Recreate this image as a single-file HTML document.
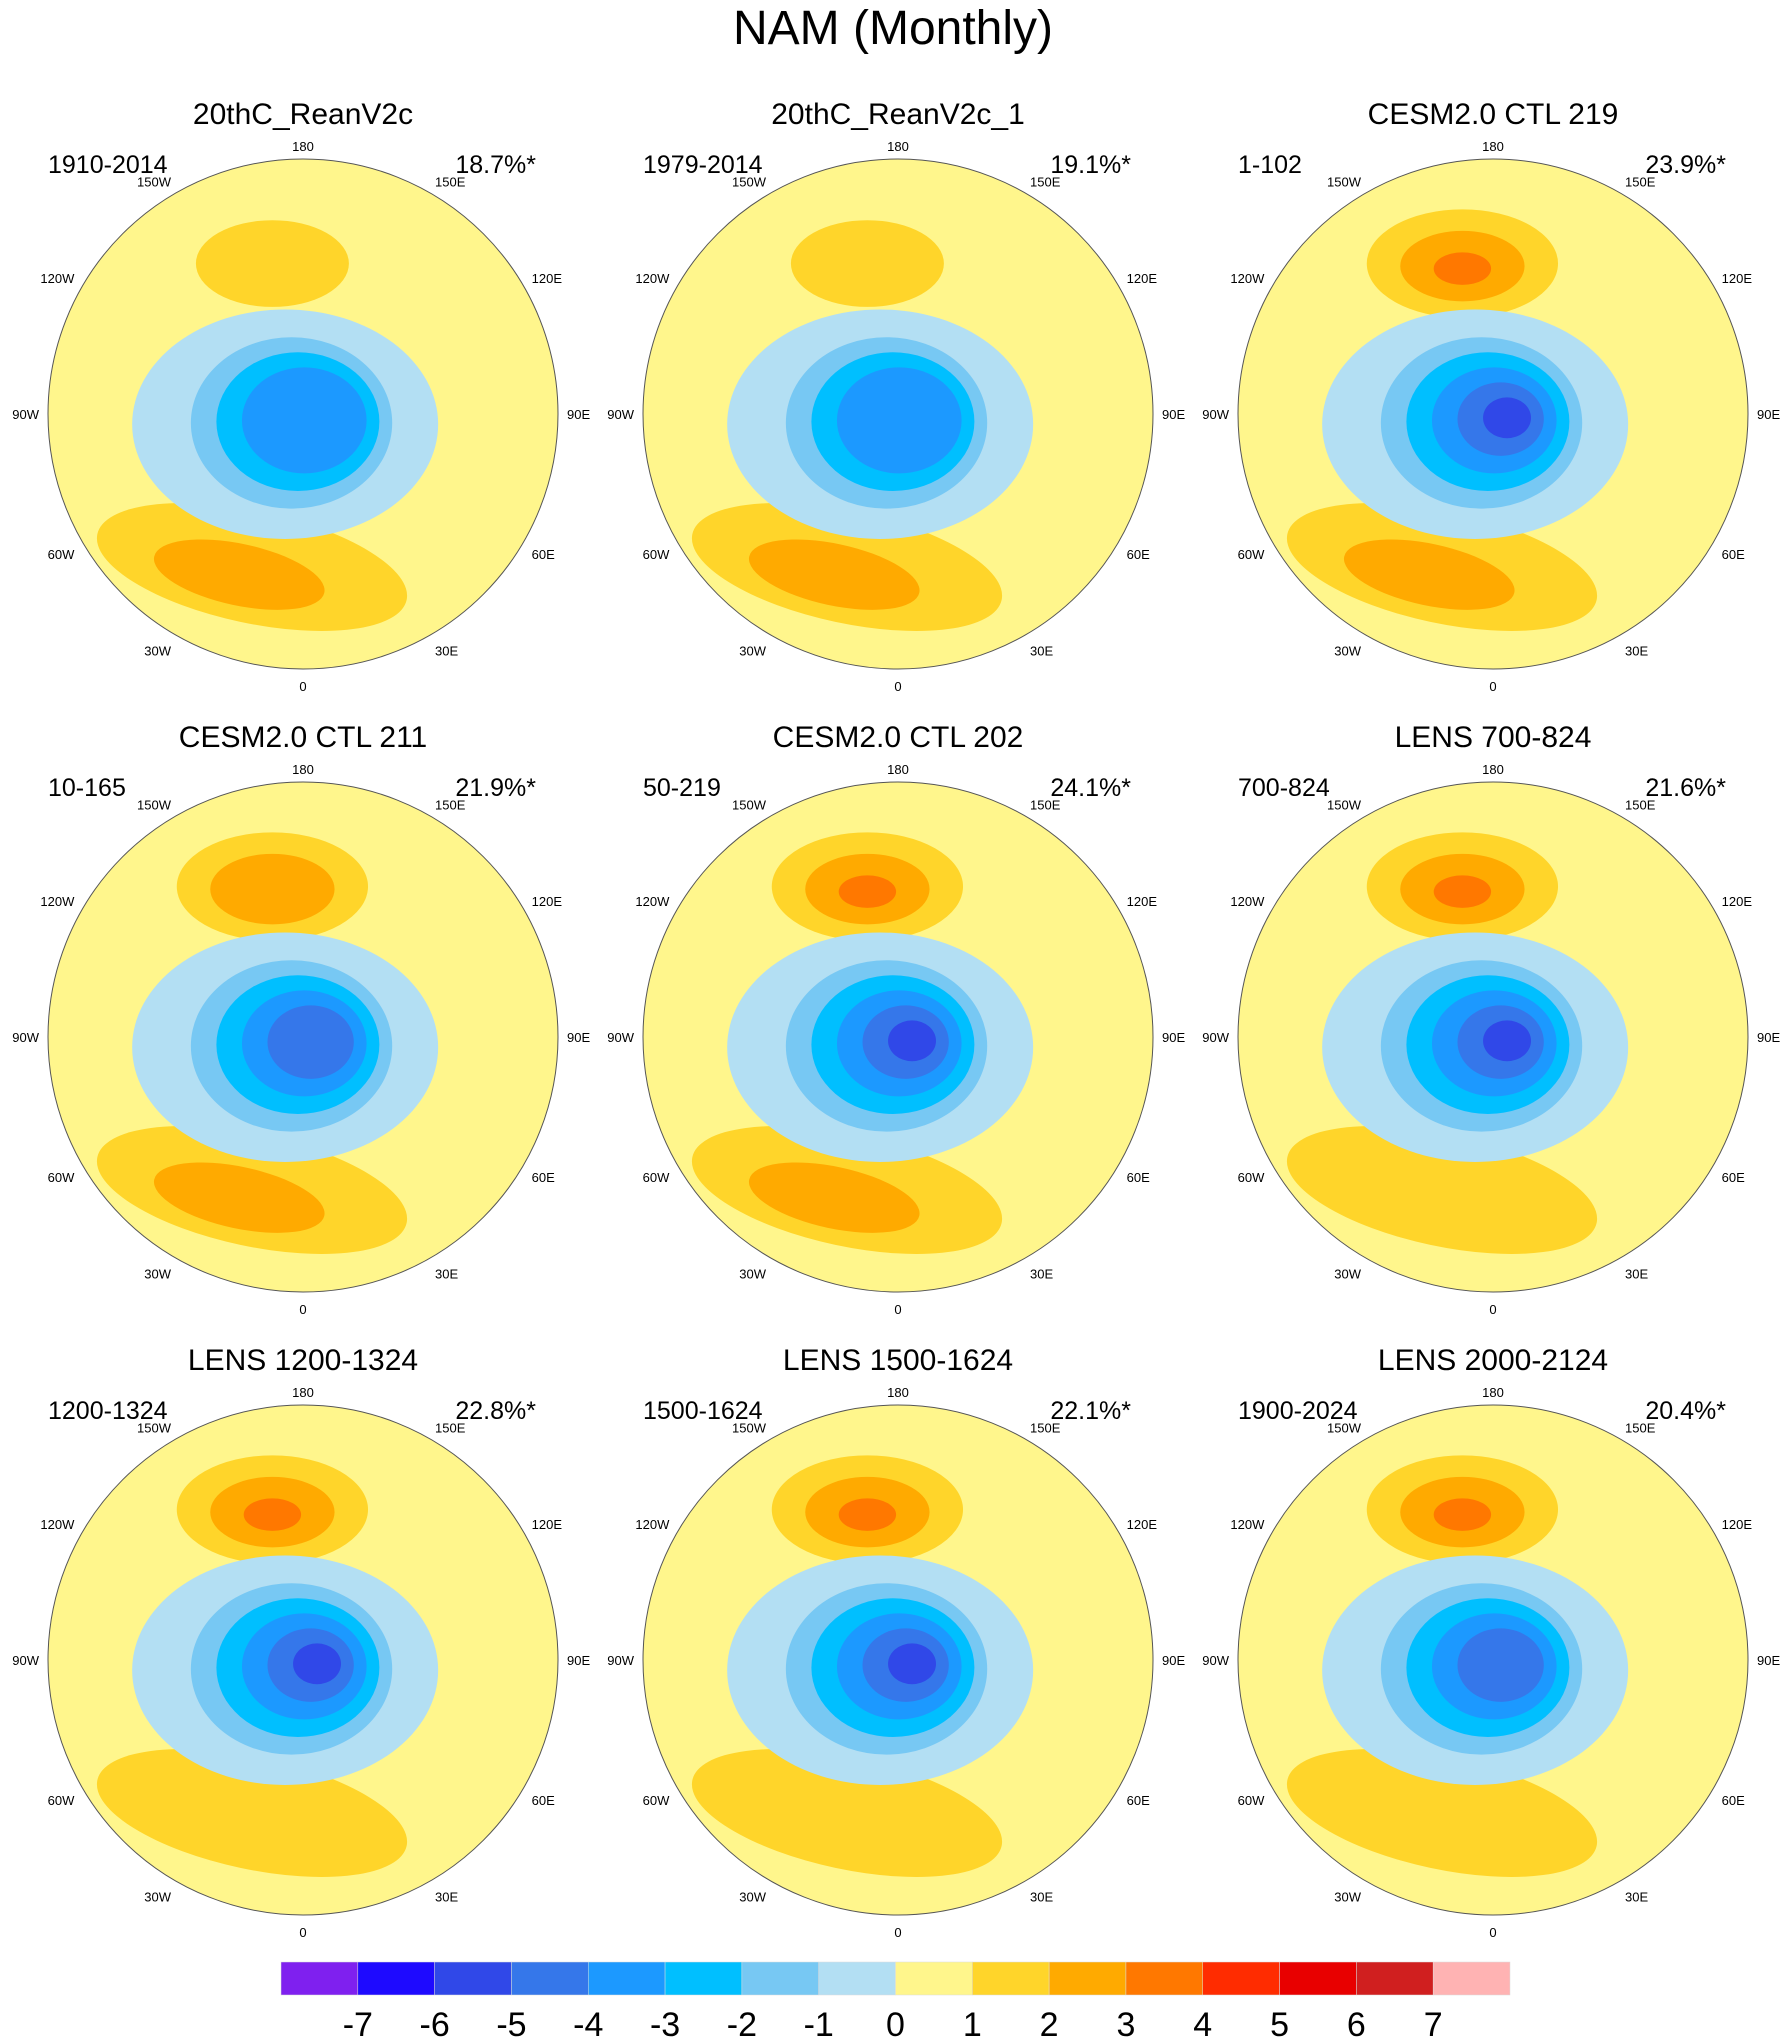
<!DOCTYPE html>
<html><head><meta charset="utf-8"><style>
html,body{margin:0;padding:0;background:#fff}
svg{display:block;font-family:"Liberation Sans",sans-serif}
</style></head><body>
<svg id="fig" width="1786" height="2042" viewBox="0 0 1786 2042">
<text x="893" y="44" font-size="48" text-anchor="middle">NAM (Monthly)</text>
<defs id="defs"></defs>
<g id="panels"></g>
<g id="cbar"></g>
</svg>
<script>
const titles=["20thC_ReanV2c","20thC_ReanV2c_1","CESM2.0 CTL 219","CESM2.0 CTL 211","CESM2.0 CTL 202","LENS 700-824","LENS 1200-1324","LENS 1500-1624","LENS 2000-2124"];
const ranges=["1910-2014","1979-2014","1-102","10-165","50-219","700-824","1200-1324","1500-1624","1900-2024"];
const pcts=["18.7%*","19.1%*","23.9%*","21.9%*","24.1%*","21.6%*","22.8%*","22.1%*","20.4%*"];
const negDepth=[4,4,6,5,6,6,6,6,5];
const pacDepth=[1,1,3,2,3,3,3,3,3];
const atlDepth=[2,2,2,2,2,1,1,1,1];
const levels=[-7,-6,-5,-4,-3,-2,-1,0,1,2,3,4,5,6,7];
const colors=["#7F20EF","#1E0AFF","#3048E8","#3577EA","#1C99FF","#00BFFF","#77C8F3","#B3DFF3","#FFF68C","#FFD52A","#FFAA00","#FF7800","#FF2C00","#E80000","#D01F1F","#FFB3B3"];
const lonLabels=["180","150E","120E","90E","60E","30E","0","30W","60W","90W","120W","150W"];
const lonVals=[180,150,120,90,60,30,0,-30,-60,-90,-120,-150];
const NS="http://www.w3.org/2000/svg";
function mk(t,a,p){const e=document.createElementNS(NS,t);for(const k in a)e.setAttribute(k,a[k]);p.appendChild(e);return e;}
const colX=[303,898,1493], rowY=[414,1037,1660], R=255;
const panels=document.getElementById('panels'), defs=document.getElementById('defs');
titles.forEach((t,i)=>{
  const cx=colX[i%3], cy=rowY[Math.floor(i/3)];
  const g=mk('g',{},panels);
  
  
  const cp=mk('clipPath',{id:'c'+i},defs); mk('circle',{cx:cx,cy:cy,r:R},cp);
  const body=mk('g',{'clip-path':'url(#c'+i+')'},g);
  mk('circle',{cx:cx,cy:cy,r:R,fill:colors[8]},body);
  for(let k=0;k<pacDepth[i];k++){
    const s=1-k*0.35, big=pacDepth[i]>1?1.25:1;
    const e=mk('ellipse',{cx:cx-0.12*R,cy:cy-0.59*R+k*0.01*R,rx:0.3*R*big*s,ry:0.17*R*big*s,fill:colors[9+k]},body);
    
    
  }
  for(let k=0;k<atlDepth[i];k++){
    const s=1-k*0.45;
    const ax=cx-0.2*R-k*0.05*R, ay=cy+0.6*R+k*0.03*R;
    const e=mk('ellipse',{cx:ax,cy:ay,rx:0.62*R*s,ry:0.22*R*s,fill:colors[9+k],transform:'rotate(12 '+ax+' '+ay+')'},body);
    
    
  }
  for(let k=0;k<negDepth[i];k++){
    const s=1-k*0.16;
    const e=mk('ellipse',{cx:cx-0.07*R+k*0.025*R,cy:cy+0.04*R-k*0.005*R,rx:(k==0?0.6:0.47)*R*s,ry:(k==0?0.45:0.4)*R*s,fill:colors[7-k]},body);
    
    
  }
  mk('circle',{cx:cx,cy:cy,r:R,fill:'none',stroke:'#555','stroke-width':1},g);
  const tt=mk('text',{x:cx,y:cy-290,'font-size':30,'text-anchor':'middle'},g); tt.textContent=t;
  
  const rt=mk('text',{x:cx-255,y:cy-241,'font-size':25},g); rt.textContent=ranges[i];
  
  const pt=mk('text',{x:cx+233,y:cy-241,'font-size':25,'text-anchor':'end'},g); pt.textContent=pcts[i];
  
  lonVals.forEach((L,j)=>{
    const a=L*Math.PI/180, rr=R+9, sn=Math.sin(a), cs=Math.cos(a);
    const x=cx+rr*sn, y=cy-rr*(-cs)+5+ (cs< -0.1? -4 : (cs>0.1? 8:0));
    const anc=sn<-0.1?'end':(sn>0.1?'start':'middle');
    const lt=mk('text',{x:x,y:y,'font-size':13,'text-anchor':anc},g); lt.textContent=lonLabels[j];
    
  });
});
const cb=document.getElementById('cbar');
const x0=281,x1=1510,w=(x1-x0)/colors.length;
colors.forEach((c,k)=>{
  const r=mk('rect',{x:x0+k*w,y:1962,width:w,height:33,fill:c,stroke:'#ddd','stroke-width':0.5},cb);
  
});
levels.forEach((v,k)=>{
  const t=mk('text',{x:x0+(k+1)*w,y:2036,'font-size':34,'text-anchor':'middle'},cb); t.textContent=v;
  
});
</script>
</body></html>
